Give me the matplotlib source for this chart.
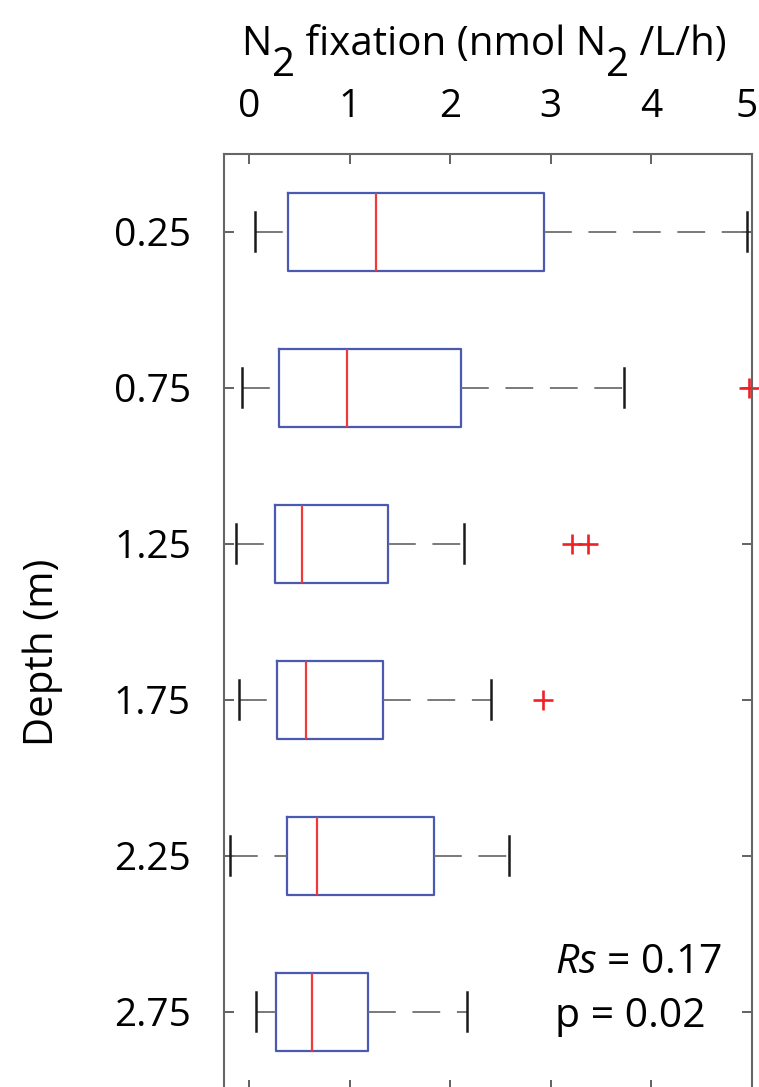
import numpy as np
import matplotlib
matplotlib.use("Agg")
import matplotlib.pyplot as plt
from matplotlib.transforms import ScaledTranslation

# depth bins (m) and box statistics of N2 fixation (nmol N2/L/h)
depths = [0.25, 0.75, 1.25, 1.75, 2.25, 2.75]
depth_labels = ["0.25", "0.75", "1.25", "1.75", "2.25", "2.75"]
whisk_lo = [0.06, -0.07, -0.13, -0.10, -0.19, 0.07]
q1 = [0.38, 0.29, 0.25, 0.27, 0.37, 0.26]
median = [1.26, 0.97, 0.52, 0.56, 0.67, 0.62]
q3 = [2.93, 2.11, 1.38, 1.33, 1.84, 1.18]
whisk_hi = [4.95, 3.73, 2.14, 2.40, 2.58, 2.17]
outliers = [[], [4.97], [3.21, 3.37], [2.92], [], []]
x_ticks = [0, 1, 2, 3, 4, 5]

plt.rcParams['font.family'] = ['Open Sans', 'DejaVu Sans']
plt.rcParams['mathtext.fontset'] = 'custom'
plt.rcParams['mathtext.rm'] = 'Open Sans'
plt.rcParams['mathtext.it'] = 'Open Sans:italic'

W, H = 759, 1087
fig = plt.figure(figsize=(W / 100, H / 100), dpi=100)
ax = fig.add_axes([224.3 / W, 1 - 1089.7 / H, 527.4 / W, 936 / H])

stats = []
for i in range(len(depths)):
    stats.append(dict(med=median[i], q1=q1[i], q3=q3[i],
                      whislo=whisk_lo[i], whishi=whisk_hi[i],
                      fliers=outliers[i]))

wlw = 1.3
parts = ax.bxp(stats, positions=depths, widths=0.25, capwidths=0.125,
               orientation='horizontal', manage_ticks=False,
               boxprops=dict(color='#4a5ab0', lw=1.6),
               medianprops=dict(color='#f03a3a', lw=1.6),
               whiskerprops=dict(color='#6e6e6e', lw=wlw,
                                 linestyle=(0, (20 / wlw, 12 / wlw))),
               capprops=dict(color='#1a1a1a', lw=1.8),
               flierprops=dict(marker='+', markeredgecolor='#f02025',
                               markersize=15, markeredgewidth=1.9))

# matlab draws the lower whisker from the cap towards the box
for w in parts['whiskers'][0::2]:
    w.set_xdata(w.get_xdata()[::-1])
for f in parts['fliers']:
    f.set_clip_on(False)

ax.set_xlim(-0.25, 5.0)
ax.set_ylim(3.0, 0.0)
ax.set_yticks(depths)
ax.set_yticklabels(depth_labels)
ax.set_xticks(x_ticks)
ax.tick_params(axis='both', direction='in', length=7.2, width=1.3,
               color='#555555', labelsize=28,
               top=True, bottom=True, left=True, right=True,
               labeltop=True, labelbottom=False)
ax.tick_params(axis='x', pad=20)
ax.tick_params(axis='y', pad=24)
for s in ax.spines.values():
    s.set_color('#666666')
    s.set_linewidth(1.5)

# the last top label sits a little inside the figure
fig.canvas.draw()
lab5 = ax.xaxis.get_majorticklabels()[-1]
lab5.set_transform(lab5.get_transform() + ScaledTranslation(-5 / 100, 0, fig.dpi_scale_trans))

fig.text(43 / W, 1 - 652 / H, "Depth (m)", rotation=90,
         ha='center', va='center', fontsize=29)

fig.text(555 / W, 1 - 973 / H, r"$\mathit{Rs}$ = 0.17", fontsize=29.5,
         ha='left', va='baseline')
fig.text(555 / W, 1 - 1027 / H, "p = 0.02", fontsize=29.5,
         ha='left', va='baseline')

# title with full-size lowered subscripts, as in the original
pieces = [("N", 0), ("2", -21), (" fixation (nmol N", 0), ("2", -21), (" /L/h)", 0)]
renderer = fig.canvas.get_renderer()
texts = []
for s, dy in pieces:
    t = fig.text(0, 0, s, fontsize=29, ha='left', va='baseline')
    texts.append((t, dy))
widths = [t.get_window_extent(renderer).width for t, _ in texts]
x = 484 - sum(widths) / 2
base = 55
for (t, dy), w in zip(texts, widths):
    t.set_position((x / W, 1 - (base - dy) / H))
    x += w

fig.savefig("out.png", dpi=100)
